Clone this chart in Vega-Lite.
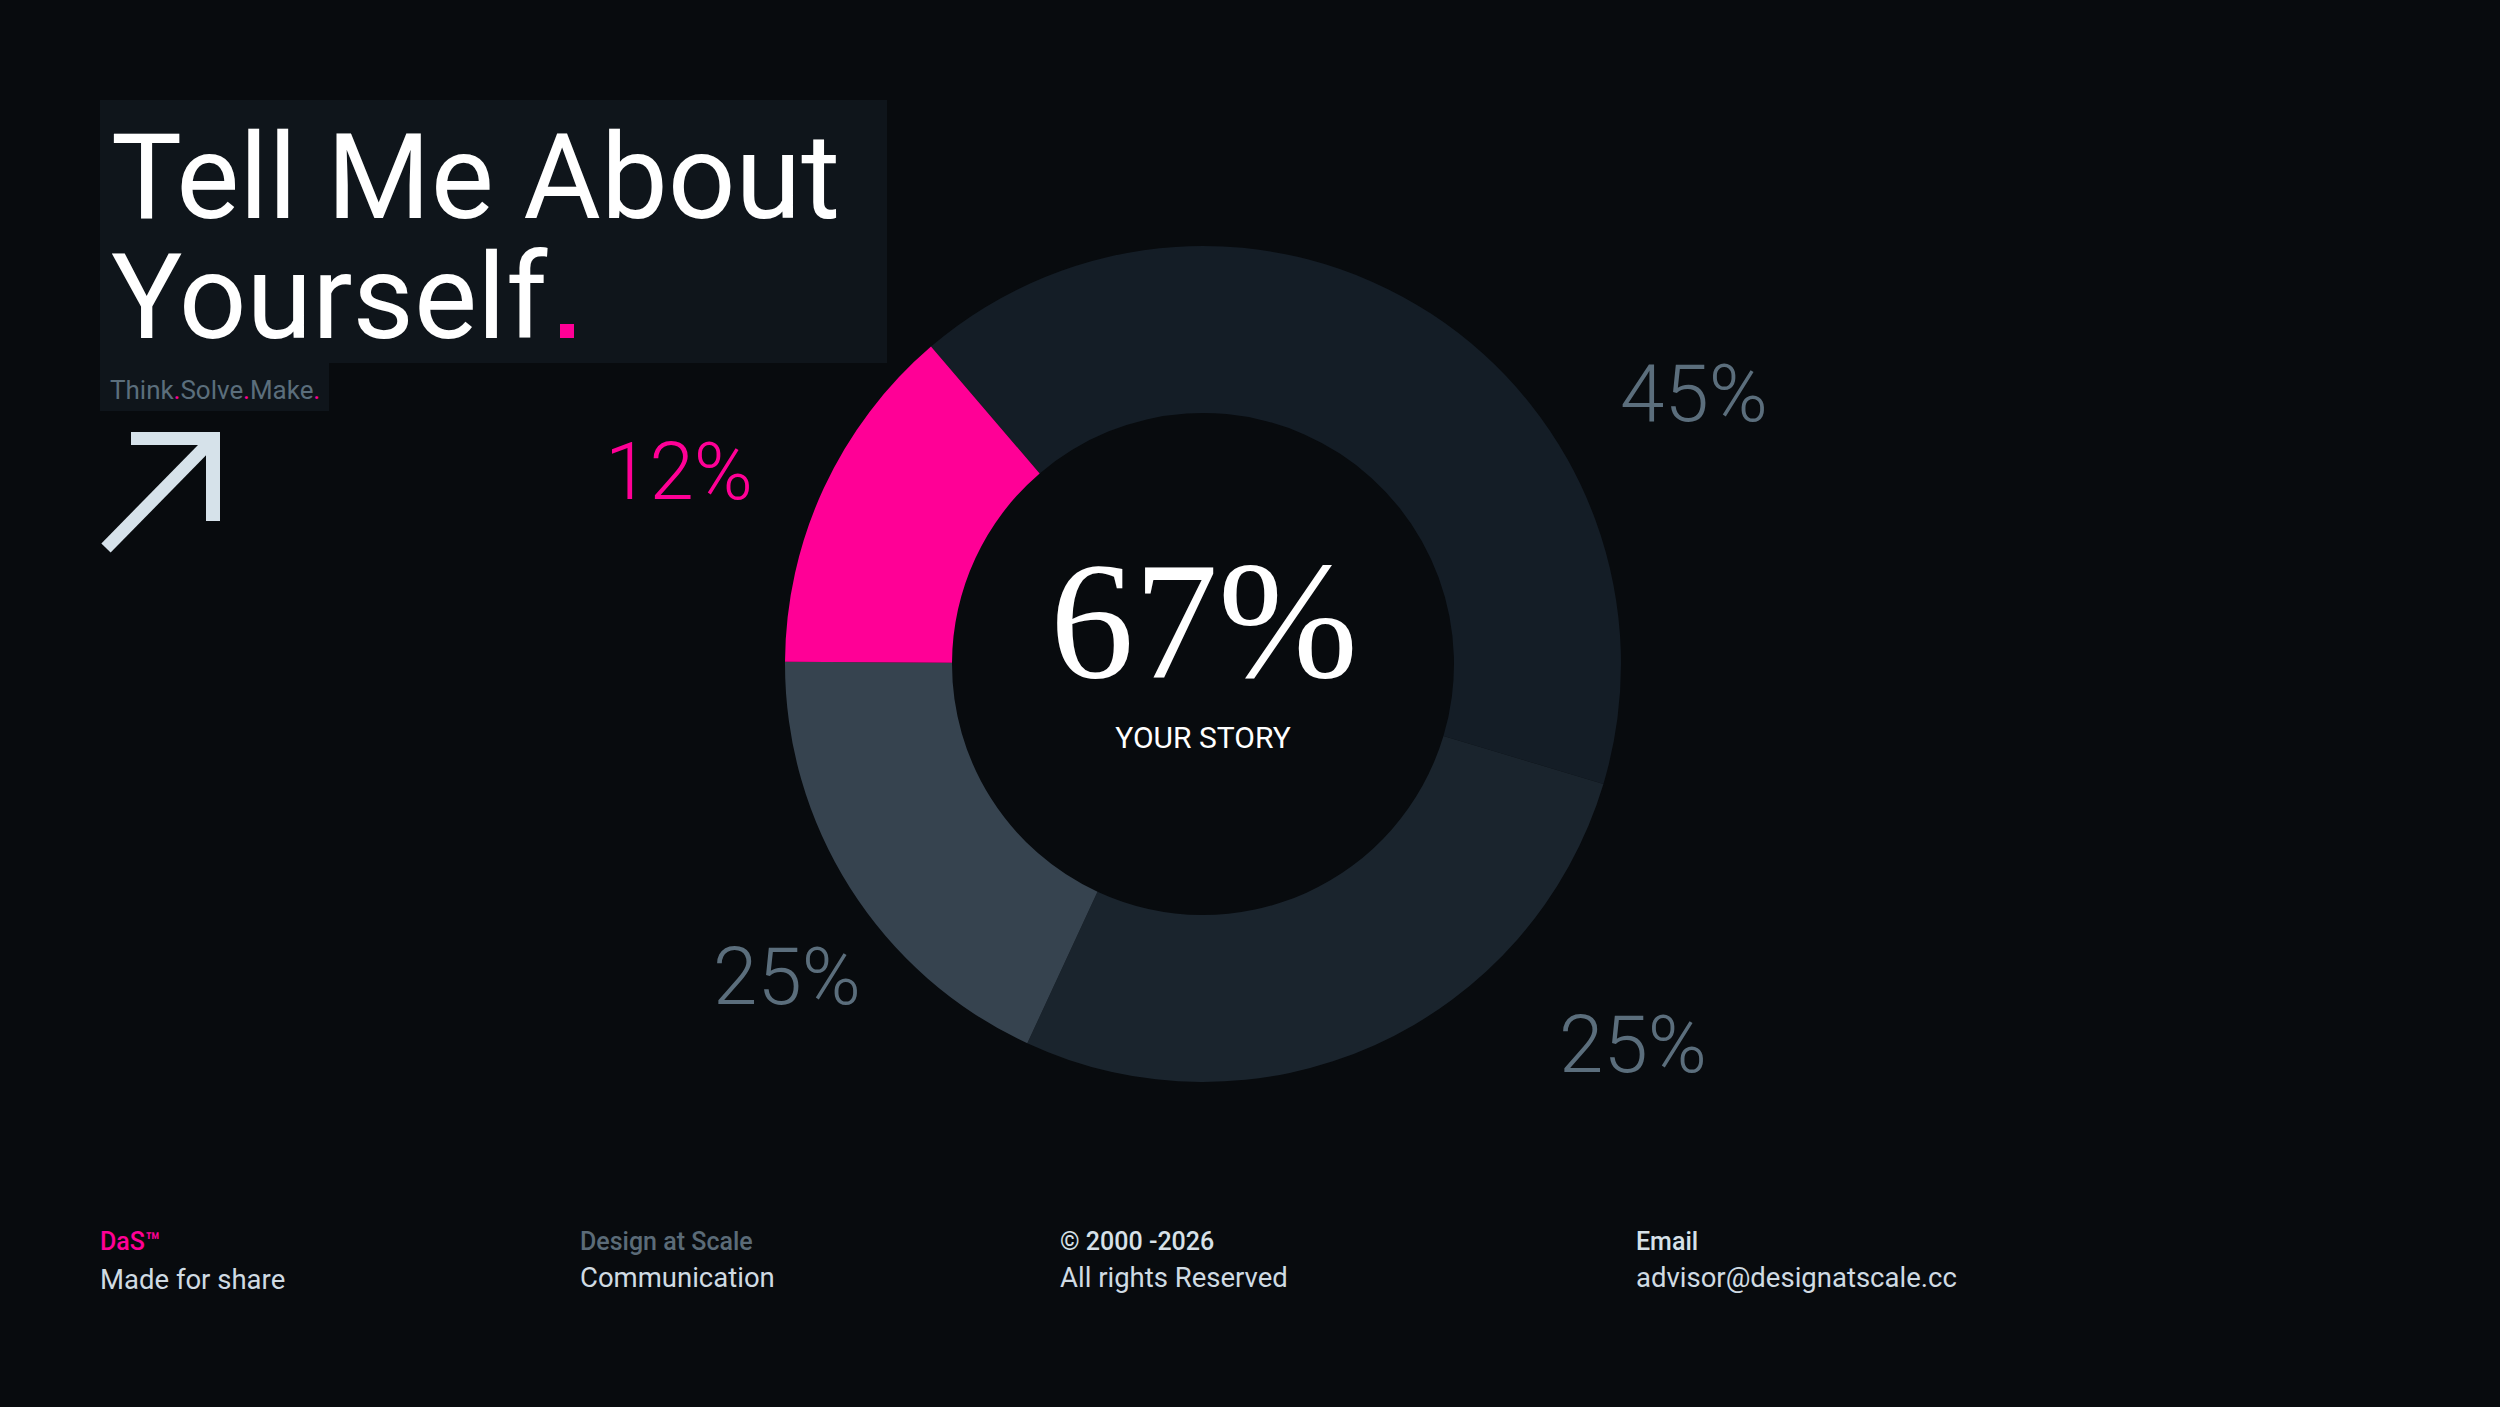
{
  "$schema": "https://vega.github.io/schema/vega-lite/v6.json",
  "width": 2500,
  "height": 1407,
  "padding": 0,
  "autosize": {"type": "fit", "contains": "padding"},
  "background": "#080b0e",
  "config": {"view": {"stroke": null}},
  "datasets": {
    "slices": [
      {"segment": "Segment 1", "value": 45, "label": "45%"},
      {"segment": "Segment 2", "value": 30, "label": "25%"},
      {"segment": "Segment 3", "value": 20, "label": "25%"},
      {"segment": "Segment 4", "value": 15, "label": "12%"}
    ]
  },
  "data": {"name": "slices"},
  "layer": [
    {
      "data": {"values": [{"box": "title"}]},
      "mark": {"type": "rect", "color": "#0f151b"},
      "encoding": {
        "x": {"datum": 10, "type": "quantitative", "scale": {"domain": [0, 250], "nice": false, "zero": false}, "axis": null},
        "x2": {"datum": 88.7},
        "y": {"datum": 10, "type": "quantitative", "scale": {"domain": [0, 140.7], "nice": false, "zero": false, "reverse": true}, "axis": null},
        "y2": {"datum": 36.3}
      }
    },
    {
      "data": {"values": [{"box": "tagline"}]},
      "mark": {"type": "rect", "color": "#0f151b"},
      "encoding": {
        "x": {"datum": 10, "type": "quantitative", "scale": {"domain": [0, 250], "nice": false, "zero": false}, "axis": null},
        "x2": {"datum": 32.9},
        "y": {"datum": 36.3, "type": "quantitative", "scale": {"domain": [0, 140.7], "nice": false, "zero": false, "reverse": true}, "axis": null},
        "y2": {"datum": 41.1}
      }
    },
    {
      "data": {"values": [{"t": "Tell Me About\nYourself"}]},
      "mark": {"type": "text", "align": "left", "baseline": "alphabetic", "font": "Roboto", "fontSize": 119, "lineBreak": "\n", "lineHeight": 120, "color": "#ffffff"},
      "encoding": {
        "text": {"field": "t"},
        "x": {"datum": 11.1, "type": "quantitative", "scale": {"domain": [0, 250], "nice": false, "zero": false}, "axis": null},
        "y": {"datum": 21.8, "type": "quantitative", "scale": {"domain": [0, 140.7], "nice": false, "zero": false, "reverse": true}, "axis": null}
      }
    },
    {
      "data": {"values": [{"t": "."}]},
      "mark": {"type": "point", "shape": "square", "filled": true, "opacity": 1, "size": 196, "color": "#ff0096"},
      "encoding": {
        "x": {"datum": 56.7, "type": "quantitative", "scale": {"domain": [0, 250], "nice": false, "zero": false}, "axis": null},
        "y": {"datum": 33.1, "type": "quantitative", "scale": {"domain": [0, 140.7], "nice": false, "zero": false, "reverse": true}, "axis": null}
      }
    },
    {
      "data": {"values": [{"t": "Think"}]},
      "mark": {"type": "text", "align": "left", "baseline": "alphabetic", "font": "Roboto", "fontSize": 26, "color": "#5b6e7c"},
      "encoding": {
        "text": {"field": "t"},
        "x": {"datum": 11.0, "type": "quantitative", "scale": {"domain": [0, 250], "nice": false, "zero": false}, "axis": null},
        "y": {"datum": 39.9, "type": "quantitative", "scale": {"domain": [0, 140.7], "nice": false, "zero": false, "reverse": true}, "axis": null}
      }
    },
    {
      "data": {"values": [{"t": "."}]},
      "mark": {"type": "text", "align": "left", "baseline": "alphabetic", "font": "Roboto", "fontSize": 26, "color": "#ff0096"},
      "encoding": {
        "text": {"field": "t"},
        "x": {"datum": 17.35, "type": "quantitative", "scale": {"domain": [0, 250], "nice": false, "zero": false}, "axis": null},
        "y": {"datum": 39.9, "type": "quantitative", "scale": {"domain": [0, 140.7], "nice": false, "zero": false, "reverse": true}, "axis": null}
      }
    },
    {
      "data": {"values": [{"t": "Solve"}]},
      "mark": {"type": "text", "align": "left", "baseline": "alphabetic", "font": "Roboto", "fontSize": 26, "color": "#5b6e7c"},
      "encoding": {
        "text": {"field": "t"},
        "x": {"datum": 18.04, "type": "quantitative", "scale": {"domain": [0, 250], "nice": false, "zero": false}, "axis": null},
        "y": {"datum": 39.9, "type": "quantitative", "scale": {"domain": [0, 140.7], "nice": false, "zero": false, "reverse": true}, "axis": null}
      }
    },
    {
      "data": {"values": [{"t": "."}]},
      "mark": {"type": "text", "align": "left", "baseline": "alphabetic", "font": "Roboto", "fontSize": 26, "color": "#ff0096"},
      "encoding": {
        "text": {"field": "t"},
        "x": {"datum": 24.3, "type": "quantitative", "scale": {"domain": [0, 250], "nice": false, "zero": false}, "axis": null},
        "y": {"datum": 39.9, "type": "quantitative", "scale": {"domain": [0, 140.7], "nice": false, "zero": false, "reverse": true}, "axis": null}
      }
    },
    {
      "data": {"values": [{"t": "Make"}]},
      "mark": {"type": "text", "align": "left", "baseline": "alphabetic", "font": "Roboto", "fontSize": 26, "color": "#5b6e7c"},
      "encoding": {
        "text": {"field": "t"},
        "x": {"datum": 24.99, "type": "quantitative", "scale": {"domain": [0, 250], "nice": false, "zero": false}, "axis": null},
        "y": {"datum": 39.9, "type": "quantitative", "scale": {"domain": [0, 140.7], "nice": false, "zero": false, "reverse": true}, "axis": null}
      }
    },
    {
      "data": {"values": [{"t": "."}]},
      "mark": {"type": "text", "align": "left", "baseline": "alphabetic", "font": "Roboto", "fontSize": 26, "color": "#ff0096"},
      "encoding": {
        "text": {"field": "t"},
        "x": {"datum": 31.32, "type": "quantitative", "scale": {"domain": [0, 250], "nice": false, "zero": false}, "axis": null},
        "y": {"datum": 39.9, "type": "quantitative", "scale": {"domain": [0, 140.7], "nice": false, "zero": false, "reverse": true}, "axis": null}
      }
    },
    {
      "data": {"values": [{"part": "bar"}]},
      "mark": {"type": "rule", "color": "#d6e2ea", "strokeWidth": 13},
      "encoding": {
        "x": {"datum": 13.1, "type": "quantitative", "scale": {"domain": [0, 250], "nice": false, "zero": false}, "axis": null},
        "x2": {"datum": 22.0},
        "y": {"datum": 43.85, "type": "quantitative", "scale": {"domain": [0, 140.7], "nice": false, "zero": false, "reverse": true}, "axis": null},
        "y2": {"datum": 43.85}
      }
    },
    {
      "data": {"values": [{"part": "stem"}]},
      "mark": {"type": "rule", "color": "#d6e2ea", "strokeWidth": 14},
      "encoding": {
        "x": {"datum": 21.3, "type": "quantitative", "scale": {"domain": [0, 250], "nice": false, "zero": false}, "axis": null},
        "x2": {"datum": 21.3},
        "y": {"datum": 43.2, "type": "quantitative", "scale": {"domain": [0, 140.7], "nice": false, "zero": false, "reverse": true}, "axis": null},
        "y2": {"datum": 52.1}
      }
    },
    {
      "data": {"values": [{"part": "shaft"}]},
      "mark": {"type": "rule", "color": "#d6e2ea", "strokeWidth": 13},
      "encoding": {
        "x": {"datum": 10.6, "type": "quantitative", "scale": {"domain": [0, 250], "nice": false, "zero": false}, "axis": null},
        "x2": {"datum": 21.1},
        "y": {"datum": 54.8, "type": "quantitative", "scale": {"domain": [0, 140.7], "nice": false, "zero": false, "reverse": true}, "axis": null},
        "y2": {"datum": 44.1}
      }
    },
    {
      "mark": {"type": "arc", "radius": 418, "radius2": 251},
      "encoding": {
        "theta": {"field": "value", "type": "quantitative", "stack": true, "scale": {"range": [-0.7086, 5.5746]}},
        "order": {"field": "segment", "sort": "ascending"},
        "color": {"field": "segment", "type": "nominal", "legend": null,
          "scale": {"domain": ["Segment 1", "Segment 2", "Segment 3", "Segment 4"], "range": ["#141d26", "#1a242d", "#36434f", "#ff0096"]}},
        "x": {"datum": 120.3, "type": "quantitative", "scale": {"domain": [0, 250], "nice": false, "zero": false}, "axis": null},
        "y": {"datum": 66.4, "type": "quantitative", "scale": {"domain": [0, 140.7], "nice": false, "zero": false, "reverse": true}, "axis": null}
      }
    },
    {
      "transform": [{"filter": "datum.segment === 'Segment 1'"}],
      "mark": {"type": "text", "align": "center", "baseline": "alphabetic", "font": "Roboto", "fontWeight": 300, "fontSize": 80, "color": "#5b6e7c"},
      "encoding": {
        "text": {"field": "label"},
        "x": {"datum": 169.4, "type": "quantitative", "scale": {"domain": [0, 250], "nice": false, "zero": false}, "axis": null},
        "y": {"datum": 42.1, "type": "quantitative", "scale": {"domain": [0, 140.7], "nice": false, "zero": false, "reverse": true}, "axis": null}
      }
    },
    {
      "transform": [{"filter": "datum.segment === 'Segment 2'"}],
      "mark": {"type": "text", "align": "center", "baseline": "alphabetic", "font": "Roboto", "fontWeight": 300, "fontSize": 80, "color": "#5b6e7c"},
      "encoding": {
        "text": {"field": "label"},
        "x": {"datum": 163.3, "type": "quantitative", "scale": {"domain": [0, 250], "nice": false, "zero": false}, "axis": null},
        "y": {"datum": 107.2, "type": "quantitative", "scale": {"domain": [0, 140.7], "nice": false, "zero": false, "reverse": true}, "axis": null}
      }
    },
    {
      "transform": [{"filter": "datum.segment === 'Segment 3'"}],
      "mark": {"type": "text", "align": "center", "baseline": "alphabetic", "font": "Roboto", "fontWeight": 300, "fontSize": 80, "color": "#5b6e7c"},
      "encoding": {
        "text": {"field": "label"},
        "x": {"datum": 78.7, "type": "quantitative", "scale": {"domain": [0, 250], "nice": false, "zero": false}, "axis": null},
        "y": {"datum": 100.4, "type": "quantitative", "scale": {"domain": [0, 140.7], "nice": false, "zero": false, "reverse": true}, "axis": null}
      }
    },
    {
      "transform": [{"filter": "datum.segment === 'Segment 4'"}],
      "mark": {"type": "text", "align": "center", "baseline": "alphabetic", "font": "Roboto", "fontWeight": 300, "fontSize": 80, "color": "#ff0096"},
      "encoding": {
        "text": {"field": "label"},
        "x": {"datum": 67.9, "type": "quantitative", "scale": {"domain": [0, 250], "nice": false, "zero": false}, "axis": null},
        "y": {"datum": 49.9, "type": "quantitative", "scale": {"domain": [0, 140.7], "nice": false, "zero": false, "reverse": true}, "axis": null}
      }
    },
    {
      "data": {"values": [{"t": "67%"}]},
      "mark": {"type": "text", "align": "center", "baseline": "alphabetic", "font": "Liberation Serif", "fontSize": 168, "color": "#ffffff"},
      "encoding": {
        "text": {"field": "t"},
        "x": {"datum": 120.4, "type": "quantitative", "scale": {"domain": [0, 250], "nice": false, "zero": false}, "axis": null},
        "y": {"datum": 67.7, "type": "quantitative", "scale": {"domain": [0, 140.7], "nice": false, "zero": false, "reverse": true}, "axis": null}
      }
    },
    {
      "data": {"values": [{"t": "YOUR STORY"}]},
      "mark": {"type": "text", "align": "center", "baseline": "alphabetic", "font": "Roboto", "fontSize": 30, "color": "#ffffff"},
      "encoding": {
        "text": {"field": "t"},
        "x": {"datum": 120.3, "type": "quantitative", "scale": {"domain": [0, 250], "nice": false, "zero": false}, "axis": null},
        "y": {"datum": 74.8, "type": "quantitative", "scale": {"domain": [0, 140.7], "nice": false, "zero": false, "reverse": true}, "axis": null}
      }
    },
    {
      "data": {"values": [{"t": "DaS™"}]},
      "mark": {"type": "text", "align": "left", "baseline": "alphabetic", "font": "Roboto", "fontWeight": 500, "fontSize": 25, "color": "#ff0096"},
      "encoding": {
        "text": {"field": "t"},
        "x": {"datum": 10.0, "type": "quantitative", "scale": {"domain": [0, 250], "nice": false, "zero": false}, "axis": null},
        "y": {"datum": 125.0, "type": "quantitative", "scale": {"domain": [0, 140.7], "nice": false, "zero": false, "reverse": true}, "axis": null}
      }
    },
    {
      "data": {"values": [{"t": "Made for share"}]},
      "mark": {"type": "text", "align": "left", "baseline": "alphabetic", "font": "Roboto", "fontSize": 27.5, "color": "#d0dbe3"},
      "encoding": {
        "text": {"field": "t"},
        "x": {"datum": 10.0, "type": "quantitative", "scale": {"domain": [0, 250], "nice": false, "zero": false}, "axis": null},
        "y": {"datum": 128.9, "type": "quantitative", "scale": {"domain": [0, 140.7], "nice": false, "zero": false, "reverse": true}, "axis": null}
      }
    },
    {
      "data": {"values": [{"t": "Design at Scale"}]},
      "mark": {"type": "text", "align": "left", "baseline": "alphabetic", "font": "Roboto", "fontWeight": 500, "fontSize": 25, "color": "#5b6b78"},
      "encoding": {
        "text": {"field": "t"},
        "x": {"datum": 58.0, "type": "quantitative", "scale": {"domain": [0, 250], "nice": false, "zero": false}, "axis": null},
        "y": {"datum": 125.0, "type": "quantitative", "scale": {"domain": [0, 140.7], "nice": false, "zero": false, "reverse": true}, "axis": null}
      }
    },
    {
      "data": {"values": [{"t": "Communication"}]},
      "mark": {"type": "text", "align": "left", "baseline": "alphabetic", "font": "Roboto", "fontSize": 27.5, "color": "#d0dbe3"},
      "encoding": {
        "text": {"field": "t"},
        "x": {"datum": 58.0, "type": "quantitative", "scale": {"domain": [0, 250], "nice": false, "zero": false}, "axis": null},
        "y": {"datum": 128.7, "type": "quantitative", "scale": {"domain": [0, 140.7], "nice": false, "zero": false, "reverse": true}, "axis": null}
      }
    },
    {
      "data": {"values": [{"t": "© 2000 -2026"}]},
      "mark": {"type": "text", "align": "left", "baseline": "alphabetic", "font": "Roboto", "fontWeight": 500, "fontSize": 25, "color": "#d7e1e8"},
      "encoding": {
        "text": {"field": "t"},
        "x": {"datum": 106.0, "type": "quantitative", "scale": {"domain": [0, 250], "nice": false, "zero": false}, "axis": null},
        "y": {"datum": 125.0, "type": "quantitative", "scale": {"domain": [0, 140.7], "nice": false, "zero": false, "reverse": true}, "axis": null}
      }
    },
    {
      "data": {"values": [{"t": "All rights Reserved"}]},
      "mark": {"type": "text", "align": "left", "baseline": "alphabetic", "font": "Roboto", "fontSize": 27.5, "color": "#d0dbe3"},
      "encoding": {
        "text": {"field": "t"},
        "x": {"datum": 106.0, "type": "quantitative", "scale": {"domain": [0, 250], "nice": false, "zero": false}, "axis": null},
        "y": {"datum": 128.7, "type": "quantitative", "scale": {"domain": [0, 140.7], "nice": false, "zero": false, "reverse": true}, "axis": null}
      }
    },
    {
      "data": {"values": [{"t": "Email"}]},
      "mark": {"type": "text", "align": "left", "baseline": "alphabetic", "font": "Roboto", "fontWeight": 500, "fontSize": 25, "color": "#d7e1e8"},
      "encoding": {
        "text": {"field": "t"},
        "x": {"datum": 163.6, "type": "quantitative", "scale": {"domain": [0, 250], "nice": false, "zero": false}, "axis": null},
        "y": {"datum": 125.0, "type": "quantitative", "scale": {"domain": [0, 140.7], "nice": false, "zero": false, "reverse": true}, "axis": null}
      }
    },
    {
      "data": {"values": [{"t": "advisor@designatscale.cc"}]},
      "mark": {"type": "text", "align": "left", "baseline": "alphabetic", "font": "Roboto", "fontSize": 27.5, "color": "#d0dbe3"},
      "encoding": {
        "text": {"field": "t"},
        "x": {"datum": 163.6, "type": "quantitative", "scale": {"domain": [0, 250], "nice": false, "zero": false}, "axis": null},
        "y": {"datum": 128.7, "type": "quantitative", "scale": {"domain": [0, 140.7], "nice": false, "zero": false, "reverse": true}, "axis": null}
      }
    }
  ]
}
